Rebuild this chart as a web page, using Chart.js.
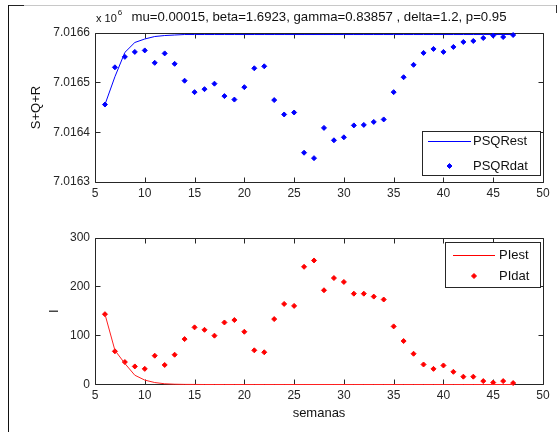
<!DOCTYPE html>
<html>
<head>
<meta charset="utf-8">
<script src="https://cdn.jsdelivr.net/npm/chart.js@4.4.1/dist/chart.umd.min.js"></script>
<style>
  html, body { margin: 0; padding: 0; background: #fff; }
  #fig { position: relative; width: 558px; height: 432px; overflow: hidden; background: #fff; }
  #fig canvas { position: absolute; left: 0; }
  .edge { position: absolute; }
</style>
</head>
<body>
<div id="fig">
  <div class="edge" style="left:8px;top:5px;width:548px;height:1px;background:#c8c8c8"></div>
  <div class="edge" style="left:8px;top:5px;width:16px;height:1px;background:#222"></div>
  <div class="edge" style="left:8px;top:5px;width:1px;height:427px;background:#111"></div>
  <div class="edge" style="left:556px;top:5px;width:1px;height:8px;background:#333"></div>
  <canvas id="psqr" width="558" height="200" style="top:0"></canvas>
  <canvas id="pi" width="558" height="232" style="top:200px"></canvas>
</div>
<script>
const weeks = [6, 7, 8, 9, 10, 11, 12, 13, 14, 15, 16, 17, 18, 19, 20, 21, 22, 23, 24, 25, 26,
               27, 28, 29, 30, 31, 32, 33, 34, 35, 36, 37, 38, 39, 40, 41, 42, 43, 44, 45, 46, 47];

// S+Q+R observed and fitted
const psqrDat = [7016456, 7016531, 7016552, 7016562, 7016565, 7016540, 7016559, 7016538, 7016504,
                 7016481, 7016487, 7016498, 7016473, 7016466, 7016491, 7016529, 7016533, 7016465,
                 7016436, 7016440, 7016359, 7016348, 7016409, 7016384, 7016390, 7016414, 7016415,
                 7016421, 7016426, 7016481, 7016511, 7016536, 7016560, 7016568, 7016562, 7016572,
                 7016582, 7016584, 7016590, 7016595, 7016592, 7016596];
const psqrEst = [7016456, 7016512, 7016561, 7016581, 7016588, 7016593, 7016595, 7016596, 7016597,
                 7016597, 7016597, 7016597, 7016597, 7016597, 7016597, 7016597, 7016597, 7016597,
                 7016597, 7016597, 7016597, 7016597, 7016597, 7016597, 7016597, 7016597, 7016597,
                 7016597, 7016597, 7016597, 7016597, 7016597, 7016597, 7016597, 7016597, 7016597,
                 7016597, 7016597, 7016597, 7016597, 7016597, 7016597];

// infected observed and fitted
const piDat = [144, 68, 46, 37, 32, 59, 40, 61, 93, 117, 112, 100, 127, 132, 108, 70, 66, 134, 165, 161, 241,
               254, 193, 218, 210, 186, 186, 180, 174, 119, 89, 63, 41, 32, 39, 26, 16, 16, 7, 4, 7, 3];
const piEst = [144, 70, 43, 19, 9, 4, 1.5, 0.6, 0.2, 0.1, 0, 0, 0, 0, 0, 0, 0, 0, 0, 0, 0,
               0, 0, 0, 0, 0, 0, 0, 0, 0, 0, 0, 0, 0, 0, 0, 0, 0, 0, 0, 0, 0];

const xTicks = [5, 10, 15, 20, 25, 30, 35, 40, 45, 50];
const psqrTicks = [7016300, 7016400, 7016500, 7016600];
const piTicks = [0, 100, 200, 300];

const titleText = 'mu=0.00015, beta=1.6923, gamma=0.83857 , delta=1.2, p=0.95';

const FONT = "'Liberation Sans', Arial, sans-serif";
const INK = '#262626';
const BLUE = '#0000ff';
const RED = '#ff0000';

// legend boxes, per canvas
const legendBoxes = {
    psqr: { box: [422, 131, 118, 44], rows: [141, 166], sample: [428, 471], textX: 473, color: BLUE },
    pi: { box: [445, 42, 95, 45], rows: [55, 76], sample: [453, 495], textX: 499, color: RED }
};

Chart.defaults.font.family = FONT;
Chart.defaults.color = INK;

function pts(ys) {
    return weeks.map((w, i) => ({ x: w, y: ys[i] }));
}

// axes box with inward ticks on all four sides, drawn under the data
const boxAxes = {
    id: 'boxAxes',
    beforeDatasetsDraw(chart) {
        const { ctx, chartArea: a, scales } = chart;
        const len = 5;
        const l = Math.round(a.left) + 0.5, r = Math.round(a.right) + 0.5;
        const t = Math.round(a.top) + 0.5, b = Math.floor(a.bottom) + 0.5;
        ctx.save();
        ctx.strokeStyle = INK;
        ctx.lineWidth = 1;
        ctx.beginPath();
        ctx.rect(l, t, r - l, b - t);
        scales.x.ticks.forEach(tk => {
            const px = Math.round(scales.x.getPixelForValue(tk.value)) + 0.5;
            ctx.moveTo(px, b); ctx.lineTo(px, b - len);
            ctx.moveTo(px, t); ctx.lineTo(px, t + len);
        });
        scales.y.ticks.forEach(tk => {
            const py = Math.floor(scales.y.getPixelForValue(tk.value)) + 0.5;
            ctx.moveTo(l, py); ctx.lineTo(l + len, py);
            ctx.moveTo(r, py); ctx.lineTo(r - len, py);
        });
        ctx.stroke();
        ctx.restore();
    },
    afterDraw(chart) {
        const ctx = chart.ctx;
        const lg = legendBoxes[chart.canvas.id];
        if (lg) {
            ctx.save();
            ctx.fillStyle = '#fff';
            ctx.fillRect(lg.box[0], lg.box[1], lg.box[2], lg.box[3]);
            ctx.strokeStyle = INK;
            ctx.lineWidth = 1;
            ctx.strokeRect(lg.box[0] + 0.5, lg.box[1] + 0.5, lg.box[2], lg.box[3]);
            ctx.font = '13px ' + FONT;
            ctx.textBaseline = 'middle';
            chart.data.datasets.forEach((ds, i) => {
                const y = lg.rows[i];
                ctx.fillStyle = lg.color;
                ctx.strokeStyle = lg.color;
                if (ds.showLine) {
                    ctx.fillRect(lg.sample[0], y, lg.sample[1] - lg.sample[0], 1);
                } else {
                    Chart.helpers.drawPoint(ctx, { pointStyle: ds.pointStyle, radius: ds.pointRadius, rotation: 0, borderWidth: 1 },
                        (lg.sample[0] + lg.sample[1]) / 2, y);
                }
                ctx.fillStyle = '#111';
                ctx.fillText(ds.label, lg.textX, y);
            });
            ctx.restore();
        }
        if (chart.canvas.id === 'psqr') {
            // axis multiplier, x 10^6
            const a = chart.chartArea;
            ctx.save();
            ctx.fillStyle = '#111';
            ctx.textBaseline = 'alphabetic';
            ctx.font = '11px ' + FONT;
            ctx.fillText('x 10', a.left + 1, 21.5);
            const w = ctx.measureText('x 10').width;
            ctx.font = '8px ' + FONT;
            ctx.fillText('6', a.left + 2 + w, 15);
            ctx.restore();
        }
    }
};

function xScale(height, title) {
    return {
        type: 'linear', min: 5, max: 50,
        afterFit: s => { s.height = height; },
        afterBuildTicks: s => { s.ticks = xTicks.map(v => ({ value: v })); },
        grid: { display: false, drawTicks: false },
        border: { display: false },
        ticks: { padding: 4, font: { size: 12 }, color: INK, maxRotation: 0 },
        title: title ? { display: true, text: title, font: { size: 13 }, color: '#111', padding: { top: 0, bottom: 10.5 } } : { display: false }
    };
}

function yScale(tickList, min, max, title, titleOffset, fmt) {
    return {
        type: 'linear', min: min, max: max,
        afterFit: s => { s.width = 95; },
        afterBuildTicks: s => { s.ticks = tickList.map(v => ({ value: v })); },
        grid: { display: false, drawTicks: false },
        border: { display: false },
        ticks: { padding: 5, font: { size: 12 }, color: INK, callback: fmt },
        title: { display: true, text: title, font: { size: 13 }, color: '#111', padding: { top: titleOffset, bottom: 0 } }
    };
}

new Chart(document.getElementById('psqr').getContext('2d'), {
    type: 'scatter',
    data: {
        datasets: [
            { label: 'PSQRest', data: pts(psqrEst), showLine: true, borderColor: BLUE, backgroundColor: BLUE,
              borderWidth: 1, pointRadius: 0, tension: 0, clip: 3 },
            { label: 'PSQRdat', data: pts(psqrDat), showLine: false, borderColor: BLUE, backgroundColor: BLUE,
              pointStyle: 'rectRot', pointRadius: 2.5, borderWidth: 1, clip: 3 }
        ]
    },
    options: {
        responsive: false,
        animation: false,
        layout: { padding: { left: 0, right: 15, top: 0, bottom: 0 } },
        scales: {
            x: xScale(18, null),
            y: yScale(psqrTicks, 7016300, 7016600, 'S+Q+R', 29, v => (v / 1e6).toFixed(4))
        },
        plugins: {
            legend: { display: false },
            tooltip: { enabled: false },
            title: { display: true, text: titleText, fullSize: false, color: '#111',
                     font: { size: 13.2, weight: 'normal' }, padding: { top: 9, bottom: 8.2 } }
        }
    },
    plugins: [boxAxes]
});

new Chart(document.getElementById('pi').getContext('2d'), {
    type: 'scatter',
    data: {
        datasets: [
            { label: 'PIest', data: pts(piEst), showLine: true, borderColor: '#ff2020', backgroundColor: RED,
              borderWidth: 1, pointRadius: 0, tension: 0, clip: 3 },
            { label: 'PIdat', data: pts(piDat), showLine: false, borderColor: RED, backgroundColor: RED,
              pointStyle: 'rectRot', pointRadius: 2.5, borderWidth: 1, clip: 3 }
        ]
    },
    options: {
        responsive: false,
        animation: false,
        layout: { padding: { left: 0, right: 15, top: 38, bottom: 0 } },
        scales: {
            x: xScale(47.5, 'semanas'),
            y: yScale(piTicks, 0, 300, 'I', 47)
        },
        plugins: {
            legend: { display: false },
            tooltip: { enabled: false }
        }
    },
    plugins: [boxAxes]
});
</script>
</body>
</html>
